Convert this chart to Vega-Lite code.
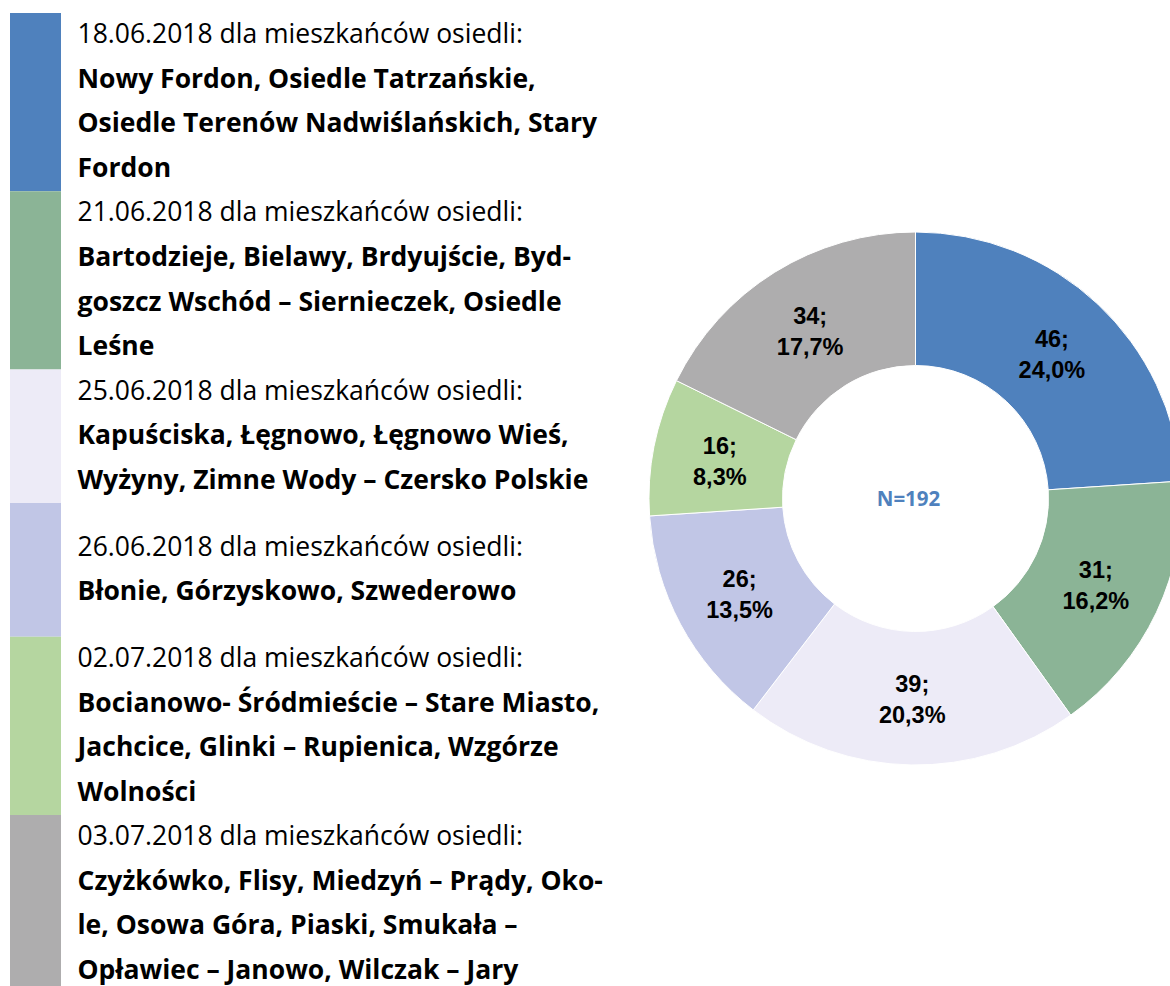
{
  "$schema": "https://vega.github.io/schema/vega-lite/v6.json",
  "padding": {"left": 10, "top": 11, "right": -12, "bottom": 0},
  "background": "white",
  "config": {"view": {"stroke": null}},
  "datasets": {
    "slices": [
      {"order": 1, "date": "18.06.2018", "count": 46, "pct": "24,0%", "lines": 4},
      {"order": 2, "date": "21.06.2018", "count": 31, "pct": "16,2%", "lines": 4},
      {"order": 3, "date": "25.06.2018", "count": 39, "pct": "20,3%", "lines": 3},
      {"order": 4, "date": "26.06.2018", "count": 26, "pct": "13,5%", "lines": 3},
      {"order": 5, "date": "02.07.2018", "count": 16, "pct": "8,3%", "lines": 4},
      {"order": 6, "date": "03.07.2018", "count": 34, "pct": "17,7%", "lines": 4}
    ],
    "headings": [
      {"line": 0.5, "text": "18.06.2018 dla mieszkańców osiedli:"},
      {"line": 4.5, "text": "21.06.2018 dla mieszkańców osiedli:"},
      {"line": 8.5, "text": "25.06.2018 dla mieszkańców osiedli:"},
      {"line": 12, "text": "26.06.2018 dla mieszkańców osiedli:"},
      {"line": 14.5, "text": "02.07.2018 dla mieszkańców osiedli:"},
      {"line": 18.5, "text": "03.07.2018 dla mieszkańców osiedli:"}
    ],
    "names": [
      {"line": 1.5, "text": "Nowy Fordon, Osiedle Tatrzańskie,"},
      {"line": 2.5, "text": "Osiedle Terenów Nadwiślańskich, Stary"},
      {"line": 3.5, "text": "Fordon"},
      {"line": 5.5, "text": "Bartodzieje, Bielawy, Brdyujście, Byd-"},
      {"line": 6.5, "text": "goszcz Wschód – Siernieczek, Osiedle"},
      {"line": 7.5, "text": "Leśne"},
      {"line": 9.5, "text": "Kapuściska, Łęgnowo, Łęgnowo Wieś,"},
      {"line": 10.5, "text": "Wyżyny, Zimne Wody – Czersko Polskie"},
      {"line": 13, "text": "Błonie, Górzyskowo, Szwederowo"},
      {"line": 15.5, "text": "Bocianowo- Śródmieście – Stare Miasto,"},
      {"line": 16.5, "text": "Jachcice, Glinki – Rupienica, Wzgórze"},
      {"line": 17.5, "text": "Wolności"},
      {"line": 19.5, "text": "Czyżkówko, Flisy, Miedzyń – Prądy, Oko-"},
      {"line": 20.5, "text": "le, Osowa Góra, Piaski, Smukała –"},
      {"line": 21.5, "text": "Opławiec – Janowo, Wilczak – Jary"}
    ],
    "total": [{"label": "N=192"}]
  },
  "bounds": "flush",
  "spacing": 651,
  "hconcat": [
    {
      "bounds": "flush",
      "spacing": 16,
      "hconcat": [
        {
          "width": 51,
          "height": 975,
          "data": {"name": "slices"},
          "transform": [{"stack": "lines", "groupby": [], "sort": [{"field": "order", "order": "ascending"}], "as": ["l0", "l1"]}],
          "mark": {"type": "rect"},
          "encoding": {
            "x": {"datum": 0, "type": "quantitative", "scale": {"domain": [0, 1], "nice": false, "zero": false}, "axis": null},
            "x2": {"datum": 1},
            "y": {"field": "l0", "type": "quantitative", "scale": {"domain": [-0.0449, 21.838], "reverse": true, "clamp": true, "nice": false, "zero": false}, "axis": null},
            "y2": {"field": "l1"},
            "color": {"field": "date", "type": "nominal", "scale": {"domain": ["18.06.2018", "21.06.2018", "25.06.2018", "26.06.2018", "02.07.2018", "03.07.2018"], "range": ["#4F81BD", "#8BB496", "#EDEBF7", "#C1C6E6", "#B5D6A0", "#AEADAE"]}, "legend": null}
          }
        },
        {
          "width": 1,
          "height": 975,
          "layer": [
            {
              "data": {"name": "headings"},
              "mark": {"type": "text", "align": "left", "baseline": "middle", "font": "Open Sans, sans-serif", "fontSize": 26.5, "fontWeight": "normal", "color": "#000000"},
              "encoding": {
                "y": {"field": "line", "type": "quantitative", "scale": {"domain": [-0.0449, 21.838], "reverse": true, "nice": false, "zero": false}, "axis": null},
                "text": {"field": "text"}
              }
            },
            {
              "data": {"name": "names"},
              "mark": {"type": "text", "align": "left", "baseline": "middle", "font": "Open Sans, sans-serif", "fontSize": 26.5, "fontWeight": "bold", "color": "#000000"},
              "encoding": {
                "y": {"field": "line", "type": "quantitative", "scale": {"domain": [-0.0449, 21.838], "reverse": true, "nice": false, "zero": false}, "axis": null},
                "text": {"field": "text"}
              }
            }
          ]
        }
      ]
    },
    {
      "width": 509,
      "height": 975,
      "layer": [
        {
          "data": {"name": "slices"},
          "mark": {"type": "arc", "outerRadius": 266.5, "innerRadius": 133, "stroke": "#ffffff", "strokeWidth": 1},
          "encoding": {
            "theta": {"field": "count", "type": "quantitative", "stack": true},
            "order": {"field": "order", "type": "quantitative"},
            "color": {"field": "date", "type": "nominal", "scale": {"domain": ["18.06.2018", "21.06.2018", "25.06.2018", "26.06.2018", "02.07.2018", "03.07.2018"], "range": ["#4F81BD", "#8BB496", "#EDEBF7", "#C1C6E6", "#B5D6A0", "#AEADAE"]}, "legend": null}
          }
        },
        {
          "data": {"name": "slices"},
          "transform": [{"calculate": "datum.count + ';\\n' + datum.pct", "as": "label"}],
          "mark": {"type": "text", "radius": 199.5, "font": "'Liberation Sans Narrow', 'Liberation Sans', Arial, sans-serif", "fontSize": 23.5, "fontWeight": "bold", "lineBreak": "\n", "lineHeight": 31, "baseline": "middle", "align": "center", "dy": -12.5, "color": "#000000"},
          "encoding": {
            "theta": {"field": "count", "type": "quantitative", "stack": true},
            "order": {"field": "order", "type": "quantitative"},
            "text": {"field": "label"}
          }
        },
        {
          "data": {"name": "total"},
          "mark": {"type": "text", "font": "Open Sans, sans-serif", "fontSize": 20.5, "fontWeight": "bold", "color": "#4F81BD", "baseline": "middle", "align": "center", "dx": -7, "dy": 1},
          "encoding": {"text": {"field": "label"}}
        }
      ]
    }
  ]
}
